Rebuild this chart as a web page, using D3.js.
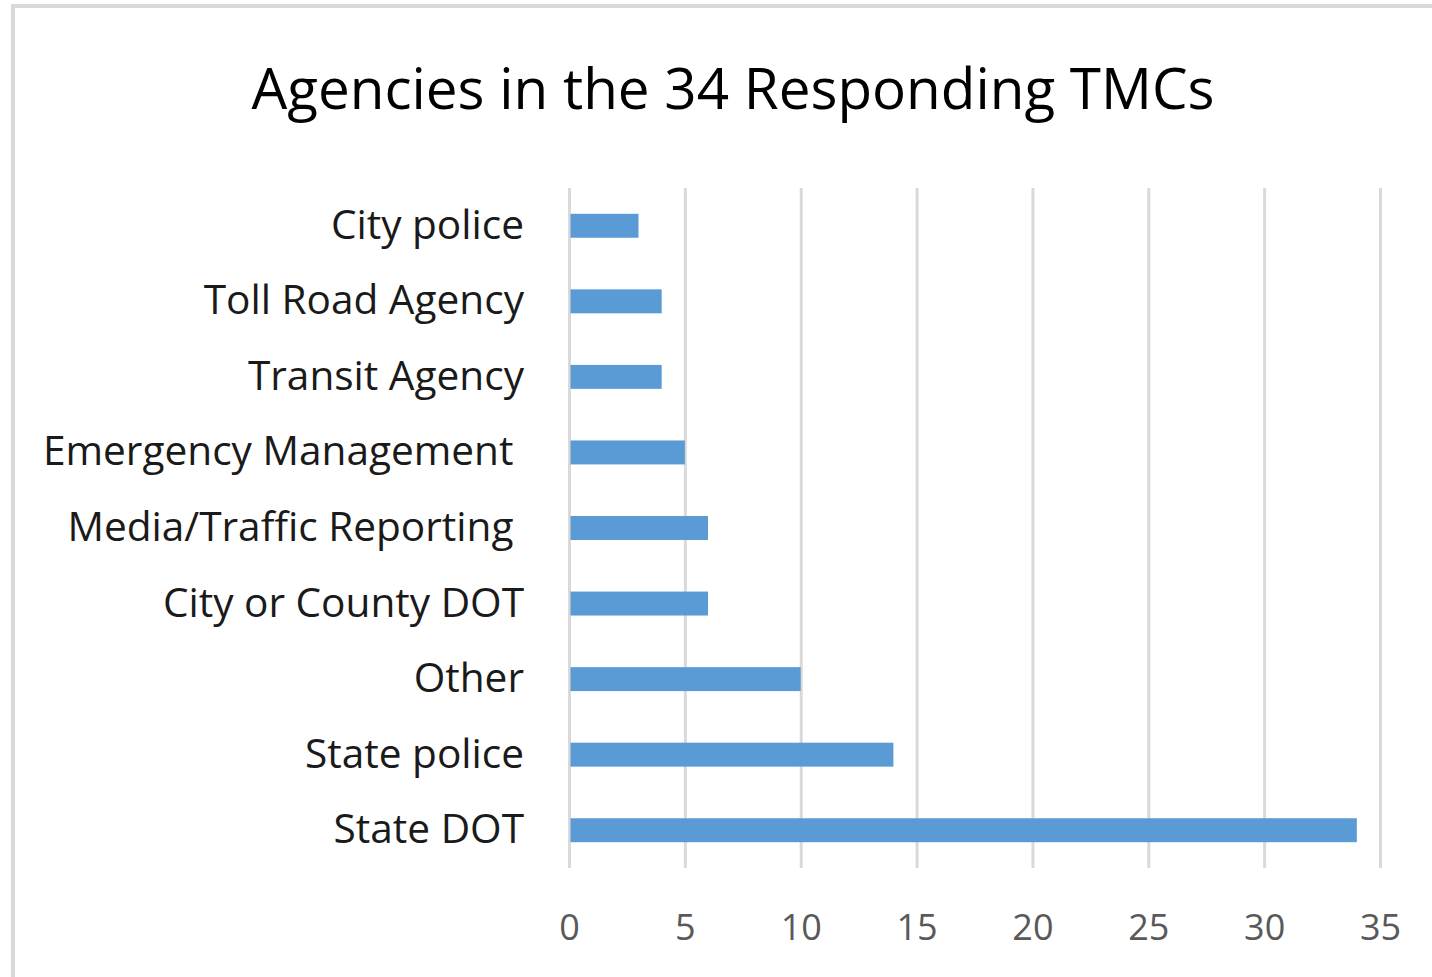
<!DOCTYPE html>
<html>
<head>
<meta charset="utf-8">
<script src="https://cdn.jsdelivr.net/npm/d3@7"></script>
<style>
  html, body { margin: 0; padding: 0; background: #fff; }
  svg { display: block; font-family: "Open Sans", sans-serif; }
</style>
</head>
<body>
<div id="chart"></div>
<script>
const width = 1432;
const height = 977;

// agencies, top to bottom as in the chart
const categories = [
  'City police',
  'Toll Road Agency',
  'Transit Agency',
  'Emergency Management ',
  'Media/Traffic Reporting ',
  'City or County DOT',
  'Other',
  'State police',
  'State DOT'
];
const counts = [3, 4, 4, 5, 6, 6, 10, 14, 34];
const xTicks = [0, 5, 10, 15, 20, 25, 30, 35];
const title = 'Agencies in the 34 Responding TMCs';

const data = categories.map((c, i) => ({ name: c, value: counts[i] }));

const plot = { left: 569, right: 1380, top: 188, bottom: 868 };

const svg = d3
  .select('#chart')
  .append('svg')
  .attr('width', width)
  .attr('height', height)
  .attr('viewBox', [0, 0, width, height]);

// chart frame (runs off the right and bottom edges like the source)
svg.append('rect')
  .attr('x', 13)
  .attr('y', 6)
  .attr('width', 1450)
  .attr('height', 1000)
  .attr('fill', '#fff')
  .attr('stroke', '#d9d9d9')
  .attr('stroke-width', 4);

svg.append('text')
  .attr('x', 733)
  .attr('y', 109)
  .attr('text-anchor', 'middle')
  .attr('font-size', 56.6)
  .attr('fill', '#000')
  .text(title);

const x = d3.scaleLinear().domain([0, 35]).range([plot.left, plot.right]);

const y = d3
  .scaleBand()
  .domain(categories)
  .range([plot.top, plot.bottom])
  .paddingInner(0.683)
  .paddingOuter(0.3415);

// gridlines + tick labels
const xAxis = svg
  .append('g')
  .attr('transform', `translate(0,${plot.bottom})`)
  .call(
    d3.axisBottom(x)
      .tickValues(xTicks)
      .tickSize(-(plot.bottom - plot.top))
      .tickPadding(46)
  );
xAxis.select('.domain').remove();
xAxis.selectAll('.tick line')
  .attr('stroke', '#d9d9d9')
  .attr('stroke-width', 3);
xAxis.selectAll('.tick text')
  .attr('font-size', 36)
  .attr('font-family', '"Open Sans", sans-serif')
  .attr('fill', '#595959');

// bars
svg.append('g')
  .selectAll('rect')
  .data(data)
  .join('rect')
  .attr('x', x(0) + 1.5)
  .attr('y', d => y(d.name))
  .attr('width', d => x(d.value) - x(0) - 1.5)
  .attr('height', y.bandwidth())
  .attr('fill', '#5b9bd5');

// category labels
const yAxis = svg
  .append('g')
  .attr('transform', `translate(${plot.left},0)`)
  .call(d3.axisLeft(y).tickSize(0).tickPadding(45));
yAxis.select('.domain').remove();
yAxis.selectAll('.tick text')
  .attr('font-size', 40.6)
  .attr('font-family', '"Open Sans", sans-serif')
  .attr('fill', '#1a1a1a')
  .style('white-space', 'pre');
</script>
</body>
</html>
